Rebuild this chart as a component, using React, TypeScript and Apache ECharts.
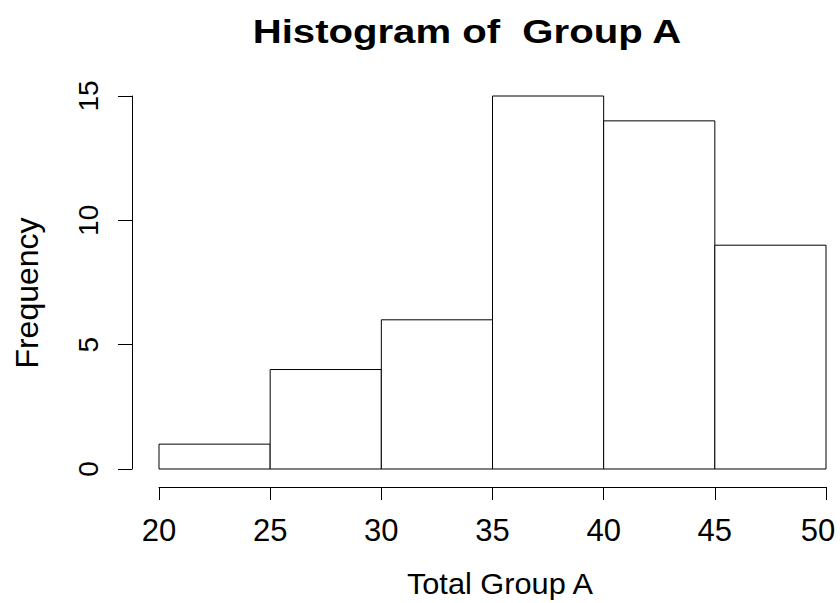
import React, { useEffect, useRef } from "react";
import * as echarts from "echarts";

const binStarts = [20, 25, 30, 35, 40, 45];
const binEnds = [25, 30, 35, 40, 45, 50];
const frequencies = [1, 4, 6, 15, 14, 9];
const xTicks = [20, 25, 30, 35, 40, 45, 50];
const yTicks = [0, 5, 10, 15];
const titleText = "Histogram of  Group A";
const xTitle = "Total Group A";
const yTitle = "Frequency";

const FONT = "Liberation Sans, Arial, Helvetica, sans-serif";

export default function App() {
  const ref = useRef<HTMLDivElement>(null);
  useEffect(() => {
    if (!ref.current) return;
    const chart = echarts.init(ref.current, null, { renderer: "svg" });
    const data = binStarts.map((s, i) => [s, binEnds[i], frequencies[i]]);
    const xMax = xTicks[xTicks.length - 1];
    chart.setOption({
      animation: false,
      backgroundColor: "#ffffff",
      textStyle: { fontFamily: FONT },
      graphic: [
        {
          type: "text",
          x: 467,
          y: 31,
          scaleX: 1.18,
          style: {
            text: titleText,
            font: "bold 34px " + FONT,
            fill: "#000",
            align: "center",
            verticalAlign: "middle",
          },
        },
        {
          type: "text",
          x: 500,
          y: 584,
          scaleX: 1.06,
          style: {
            text: xTitle,
            font: "29px " + FONT,
            fill: "#000",
            align: "center",
            verticalAlign: "middle",
          },
        },
        {
          type: "text",
          x: 27,
          y: 293,
          rotation: Math.PI / 2,
          style: {
            text: yTitle,
            font: "32px " + FONT,
            fill: "#000",
            align: "center",
            verticalAlign: "middle",
          },
        },
      ],
      grid: { left: 159, right: 14, top: 96, bottom: 134, outerBoundsMode: "none", containLabel: false },
      xAxis: {
        type: "value",
        min: xTicks[0],
        max: xMax,
        interval: 5,
        offset: 18,
        splitLine: { show: false },
        axisLine: { show: true, onZero: false, lineStyle: { color: "#000", width: 1 } },
        axisTick: { show: true, length: 13, lineStyle: { color: "#000" } },
        axisLabel: {
          color: "#000",
          fontSize: 31,
          margin: 28,
          fontFamily: FONT,
          hideOverlap: false,
          formatter: (v: number) => (v === xMax ? "{e|" + v + "}" : String(v)),
          rich: {
            e: { fontSize: 31, fontFamily: FONT, color: "#000", padding: [0, 16, 0, 0] },
          },
        },
      },
      yAxis: {
        type: "value",
        min: yTicks[0],
        max: yTicks[yTicks.length - 1],
        interval: 5,
        offset: 27,
        splitLine: { show: false },
        axisLine: { show: true, onZero: false, lineStyle: { color: "#000", width: 1 } },
        axisTick: { show: true, length: 14, lineStyle: { color: "#000" } },
        axisLabel: { color: "#000", fontSize: 28, margin: 30, rotate: 90, fontFamily: FONT },
      },
      series: [
        {
          type: "custom",
          data,
          encode: { x: [0, 1], y: 2 },
          renderItem: (params: any, api: any) => {
            const p0 = api.coord([api.value(0), 0]);
            const p1 = api.coord([api.value(1), api.value(2)]);
            return {
              type: "rect",
              shape: { x: p0[0], y: p1[1], width: p1[0] - p0[0], height: p0[1] - p1[1] },
              style: { fill: "#ffffff", stroke: "#000", lineWidth: 1 },
            };
          },
        },
      ],
    });
    return () => chart.dispose();
  }, []);
  return <div ref={ref} style={{ width: 840, height: 603, position: "absolute", left: 0, top: 0 }} />;
}
